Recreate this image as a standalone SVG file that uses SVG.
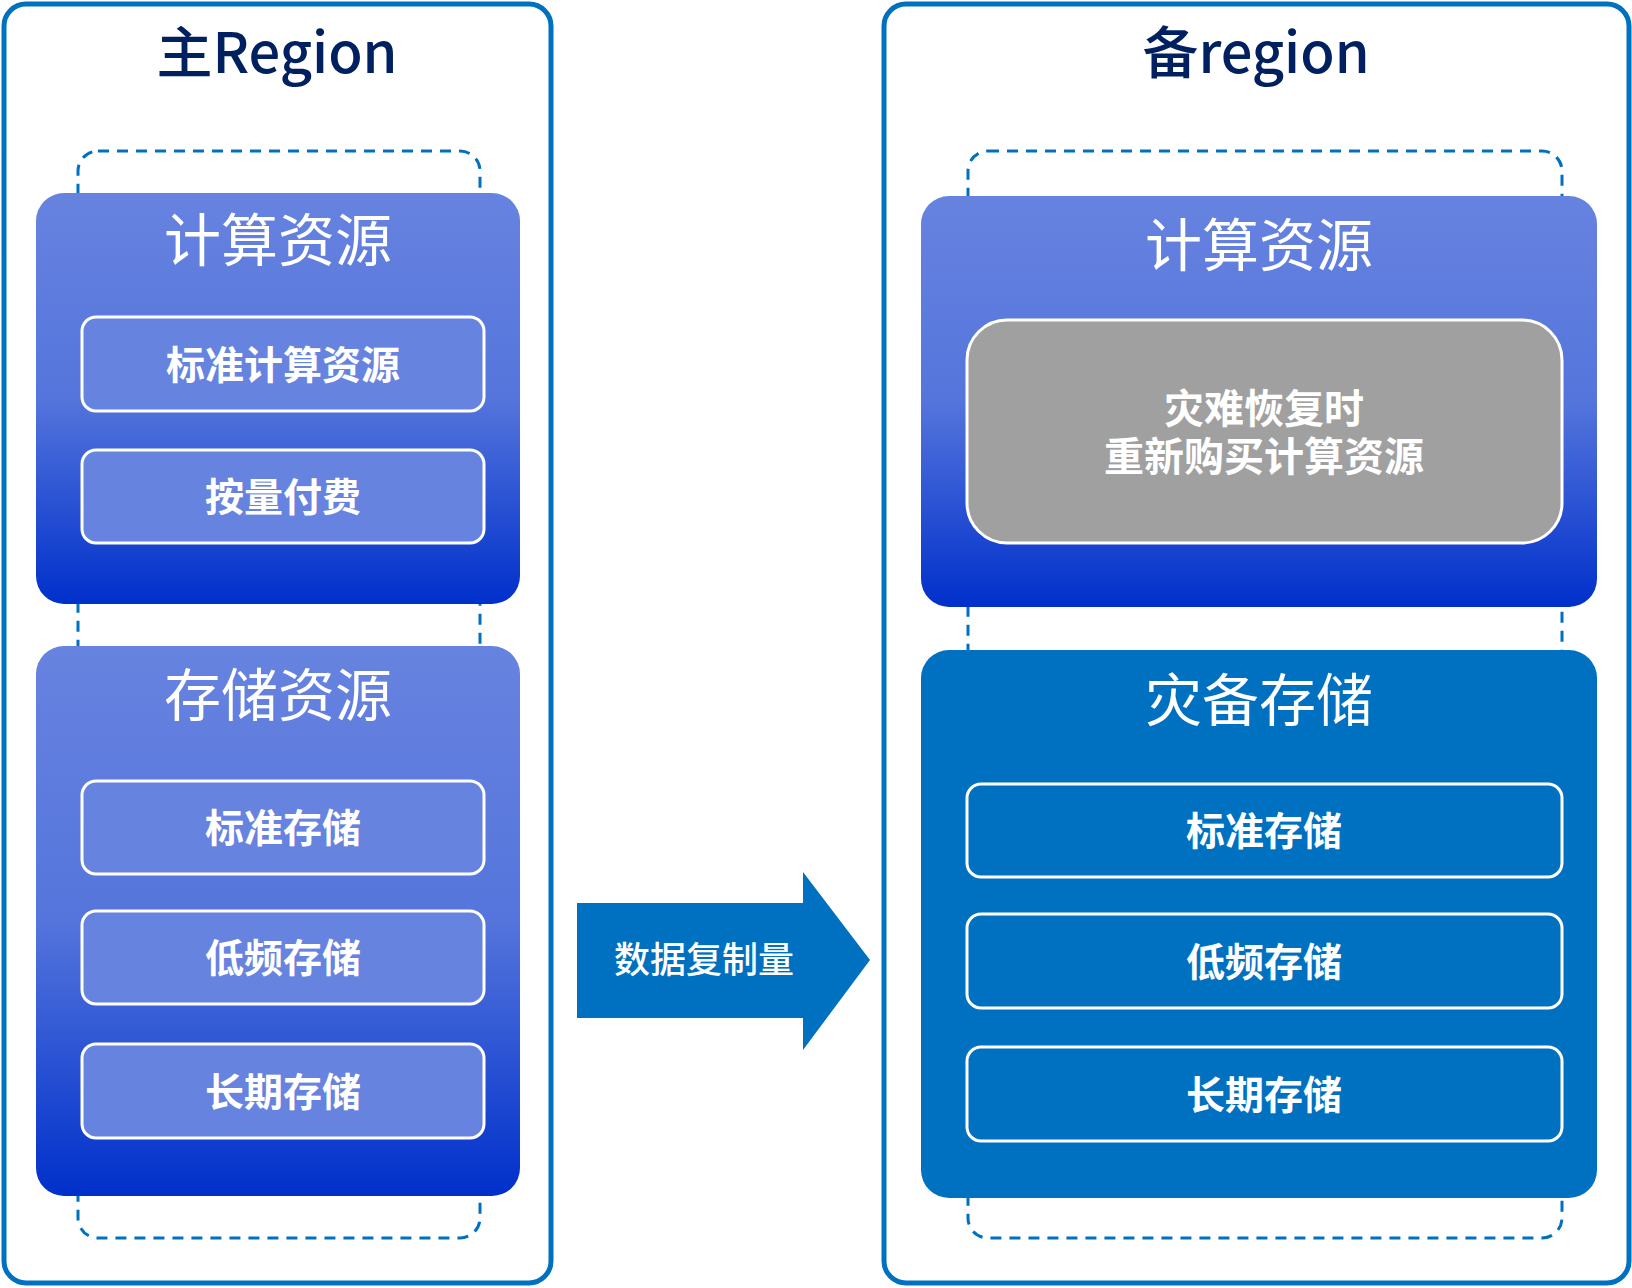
<svg xmlns="http://www.w3.org/2000/svg" width="1632" height="1288" viewBox="0 0 1632 1288">
<defs>
<linearGradient id="blueGrad" x1="0" y1="0" x2="0" y2="1">
<stop offset="0" stop-color="#6783E0"/>
<stop offset="0.5" stop-color="#5575DC"/>
<stop offset="1" stop-color="#0030CB"/>
</linearGradient>
<style>
.outer{fill:#FFFFFF;stroke:#0070C0;stroke-width:5}
.dash{fill:none;stroke:#0070C0;stroke-width:3;stroke-dasharray:11 8}
.grad{fill:url(#blueGrad)}
.inner{fill:#6783E0;stroke:#FFFFFF;stroke-width:3}
.innerR{fill:#0070C0;stroke:#FFFFFF;stroke-width:3}
.gray{fill:#A0A0A0;stroke:#FFFFFF;stroke-width:3}
.solid{fill:#0070C0}
text{font-family:"Microsoft YaHei","Noto Sans CJK SC","Noto Sans",sans-serif;text-anchor:middle;dominant-baseline:central}
.region{fill:#002060;font-size:56px;font-weight:500}
.big{fill:#FFFFFF;font-size:57px}
.lbl{fill:#FFFFFF;font-size:39px;font-weight:bold}
.lbl2{fill:#FFFFFF;font-size:40px;font-weight:bold}
.arrowtxt{fill:#FFFFFF;font-size:36px;font-weight:500}
</style>
</defs>

<g id="primary-region">
<rect class="outer" x="4" y="4" width="547" height="1279" rx="22"/>
<text class="region" x="277" y="48">主Region</text>
<rect class="dash" x="78" y="151" width="402" height="1087" rx="20"/>
</g>

<g id="primary-compute">
<rect class="grad" x="36" y="193" width="484" height="411" rx="28"/>
<text class="big" x="278" y="236">计算资源</text>
</g>
<g id="primary-std-compute">
<rect class="inner" x="82" y="317" width="402" height="94" rx="14"/>
<text class="lbl" x="283" y="362">标准计算资源</text>
</g>
<g id="primary-payg">
<rect class="inner" x="82" y="450" width="402" height="93" rx="14"/>
<text class="lbl" x="283" y="494">按量付费</text>
</g>

<g id="primary-storage">
<rect class="grad" x="36" y="646" width="484" height="550" rx="28"/>
<text class="big" x="278" y="691">存储资源</text>
</g>
<g id="primary-std-storage">
<rect class="inner" x="82" y="781" width="402" height="93" rx="14"/>
<text class="lbl" x="283" y="825">标准存储</text>
</g>
<g id="primary-ia-storage">
<rect class="inner" x="82" y="911" width="402" height="93" rx="14"/>
<text class="lbl" x="283" y="955">低频存储</text>
</g>
<g id="primary-archive-storage">
<rect class="inner" x="82" y="1044" width="402" height="94" rx="14"/>
<text class="lbl" x="283" y="1089">长期存储</text>
</g>

<g id="connectors">
<g id="replication-arrow">
<polygon class="solid" points="577,903 803,903 803,872 870,960 803,1050 803,1018 577,1018"/>
<text class="arrowtxt" x="704" y="957">数据复制量</text>
</g>
</g>

<g id="backup-region">
<rect class="outer" x="884" y="4" width="745" height="1279" rx="22"/>
<text class="region" x="1256" y="48">备region</text>
<rect class="dash" x="968" y="151" width="594" height="1087" rx="20"/>
</g>

<g id="backup-compute">
<rect class="grad" x="921" y="196" width="676" height="411" rx="28"/>
<text class="big" x="1259" y="241">计算资源</text>
</g>
<g id="backup-repurchase">
<rect class="gray" x="967" y="320" width="595" height="223" rx="40"/>
<text class="lbl2" x="1264" y="406"><tspan x="1264" y="406">灾难恢复时</tspan><tspan x="1264" y="454">重新购买计算资源</tspan></text>
</g>

<g id="backup-storage">
<rect class="solid" x="921" y="650" width="676" height="548" rx="28"/>
<text class="big" x="1259" y="696">灾备存储</text>
</g>
<g id="backup-std-storage">
<rect class="innerR" x="967" y="784" width="595" height="93" rx="14"/>
<text class="lbl" x="1264" y="828">标准存储</text>
</g>
<g id="backup-ia-storage">
<rect class="innerR" x="967" y="914" width="595" height="94" rx="14"/>
<text class="lbl" x="1264" y="959">低频存储</text>
</g>
<g id="backup-archive-storage">
<rect class="innerR" x="967" y="1047" width="595" height="94" rx="14"/>
<text class="lbl" x="1264" y="1092">长期存储</text>
</g>
</svg>
